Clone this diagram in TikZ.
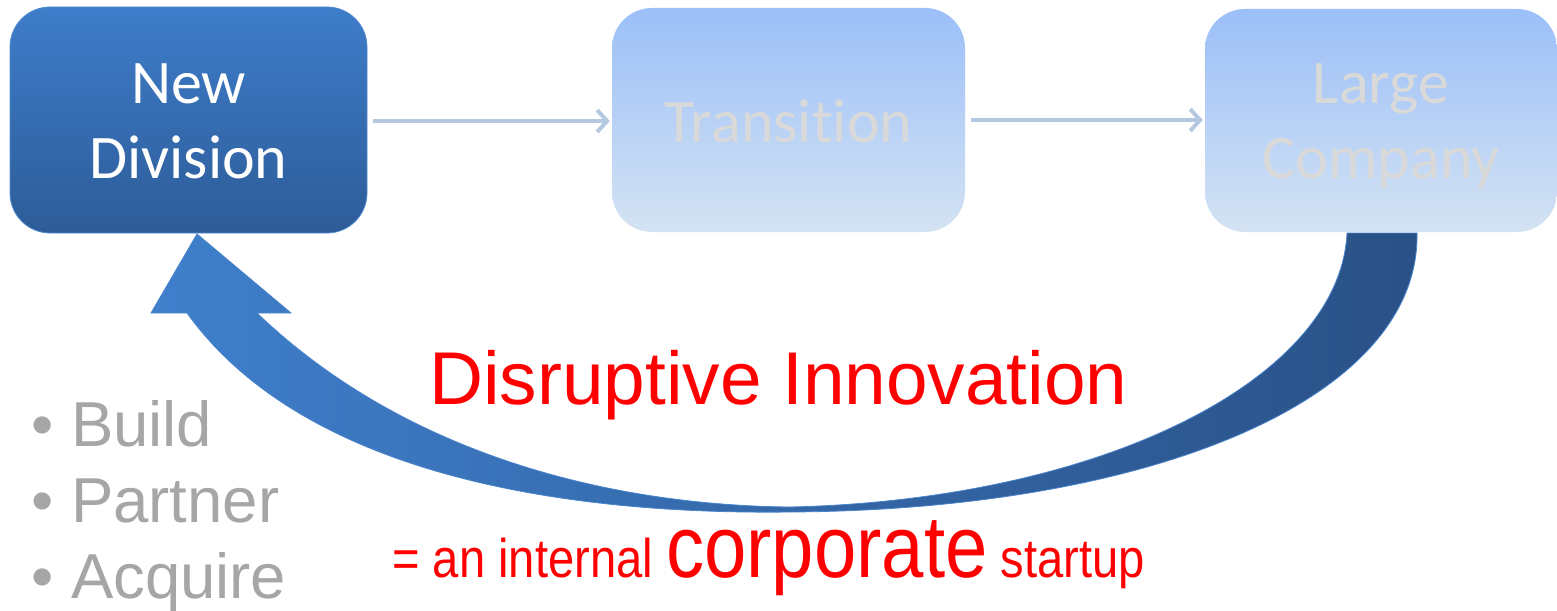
\documentclass[tikz,border=0pt]{standalone}
\usepackage{fontspec}
\setmainfont[Ligatures={NoCommon,NoRare,NoContextual}]{Carlito}
\newfontfamily\arialf{Liberation Sans}
\newfontfamily\arialnarrow[FakeStretch=0.865]{Liberation Sans}
\usetikzlibrary{arrows.meta}
\definecolor{ndtop}{HTML}{3E7DCA}
\definecolor{ndbot}{HTML}{2D5C98}
\definecolor{ltop}{HTML}{9BBFF8}
\definecolor{lbot}{HTML}{D4E3F3}
\definecolor{boxtext}{HTML}{D9D9D9}
\definecolor{flowc}{HTML}{B4C8E2}
\definecolor{arrl}{HTML}{3F7FCB}
\definecolor{arrr}{HTML}{2A5187}
\definecolor{arredge}{HTML}{4A84CC}
\definecolor{bulletgray}{HTML}{A6A6A6}
\definecolor{redtxt}{HTML}{FF0000}
\tikzset{
  stagebox/.style={rounded corners=40pt, inner sep=0pt, shade},
  darkbox/.style={stagebox, top color=ndtop, bottom color=ndbot, draw=ndtop!90!white, line width=0.8pt},
  lightbox/.style={stagebox, top color=ltop, bottom color=lbot},
  boxlabel/.style={inner sep=0pt, anchor=base, font=\fontsize{62}{75}\selectfont},
  flow/.style={draw=flowc, line width=4.5pt, -{Straight Barb[length=10pt,width=22pt,line width=4pt]}, shorten <=6pt, shorten >=2pt},
  bullettext/.style={inner sep=0pt, anchor=base west, text=bulletgray, font=\arialf\fontsize{63.5}{70}\selectfont},
}
\begin{document}
\begin{tikzpicture}[x=1pt,y=-1pt]
\useasboundingbox (0,0) rectangle (1557,610);

% stage boxes
\node[darkbox, minimum width=357pt, minimum height=226pt] (nd) at (188.5,120) {};
\node[lightbox, minimum width=353pt, minimum height=224pt] (tr) at (788.5,120) {};
\node[lightbox, minimum width=352pt, minimum height=223pt] (lc) at (1381,120.5) {};

% box texts
\node[boxlabel, text=white] (ndt1) at (nd.center |- 0,103) {New};
\node[boxlabel, text=white] (ndt2) at (nd.center |- 0,178) {Division};
\node[boxlabel, text=boxtext] (trt) at (tr.center |- 0,142) {Transition};
\node[boxlabel, text=boxtext] (lct1) at (lc.center |- 0,103) {Large};
\node[boxlabel, text=boxtext] (lct2) at (lc.center |- 0,178) {Company};

% connectors
\draw[flow] (nd.east |- 0,121) -- (tr.west |- 0,121);
\draw[flow] (tr.east |- 0,120) -- (lc.west |- 0,120);

% big curved arrow back
\coordinate (tip) at (197,234);
\shade[left color=arrl, right color=arrr, draw=arredge, line width=0.8pt, line join=miter]
  (tip) -- (291,313) -- (257,313)
  .. controls (400,450) and (600,505) .. (790,507)
  .. controls (1100,500) and (1340,380) .. (1347,233)
  -- (1417,233)
  .. controls (1420,400) and (1150,510) .. (790,512)
  .. controls (550,515) and (300,470) .. (187,313)
  -- (151,313) -- cycle;

% red texts
\node[inner sep=0pt, anchor=base west, text=redtxt, font=\arialf\fontsize{74.8}{80}\selectfont] (di) at (429,404) {Disruptive Innovation};
\node[inner sep=0pt, anchor=base west, text=redtxt, font=\arialnarrow] (cs) at (392,577)
  {{\fontsize{54.5}{60}\selectfont = an internal }{\fontsize{88}{90}\selectfont corporate}{\fontsize{54.5}{60}\selectfont{} startup}};

% bullets
\node[bullettext] (b1) at (31,446) {• Build};
\node[bullettext] (b2) at (31,522) {• Partner};
\node[bullettext] (b3) at (31,598) {• Acquire};
\end{tikzpicture}
\end{document}
